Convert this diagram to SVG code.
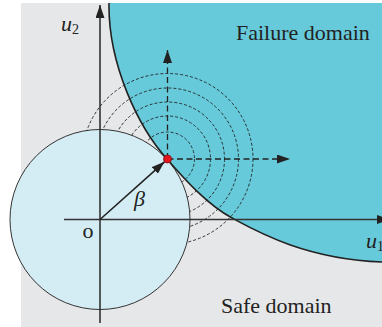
<svg xmlns="http://www.w3.org/2000/svg" width="382" height="327" viewBox="0 0 382 327">
<style>
.axis{stroke:#333;stroke-width:1.6;fill:none}
.bound{stroke:#222;stroke-width:1.6;fill:none}
.ring{stroke:#222;stroke-width:0.9;fill:none;stroke-dasharray:3 2}
.dash{stroke:#222;stroke-width:1.3;fill:none;stroke-dasharray:6 3.5}
.lbl{font-family:"Liberation Serif","Times New Roman",serif;fill:#222}
.it{font-style:italic}
</style>
<defs>
<clipPath id="outside">
<path clip-rule="evenodd" d="M0,0H382V327H0Z M10,219.5a90,90 0 1,0 180,0a90,90 0 1,0 -180,0Z"/>
</clipPath>
<marker id="ah" viewBox="0 0 13 9" refX="13" refY="4.5" markerWidth="13" markerHeight="9" markerUnits="userSpaceOnUse" orient="auto">
<path d="M0,0L13,4.5L0,9Z" fill="#222"/>
</marker>
</defs>
<g id="background">
<rect x="21" y="3" width="361" height="324" fill="#e6e7e9"/>
</g>
<g id="failure-domain">
<path d="M109,3C108,65 139,128 167,159C186,181 208,205 232,218C256,231 305,259 382,262L382,3Z" fill="#67cadb" stroke="none"/>
</g>
<g id="safe-circle">
<circle cx="100" cy="219.5" r="90" fill="#d4edf4" stroke="#333" stroke-width="1"/>
</g>
<g id="rings" clip-path="url(#outside)">
<circle class="ring" cx="167.5" cy="159" r="27"/>
<circle class="ring" cx="167.5" cy="159" r="43"/>
<circle class="ring" cx="167.5" cy="159" r="57"/>
<circle class="ring" cx="167.5" cy="159" r="71"/>
<circle class="ring" cx="167.5" cy="159" r="85.5"/>
</g>
<g id="connectors">
<path class="bound" d="M109,3C108,65 139,128 167,159C186,181 208,205 232,218C256,231 305,259 382,262"/>
<line class="axis" x1="100" y1="323" x2="100" y2="5" marker-end="url(#ah)"/>
<line class="axis" x1="64" y1="219.5" x2="390" y2="219.5" marker-end="url(#ah)"/>
<line class="dash" x1="167.5" y1="159" x2="167.5" y2="50" marker-end="url(#ah)"/>
<line class="dash" x1="167.5" y1="159" x2="290" y2="159" marker-end="url(#ah)"/>
<line stroke="#222" stroke-width="1.6" x1="100" y1="219.5" x2="164.5" y2="161.8" marker-end="url(#ah)"/>
</g>
<g id="design-point">
<circle cx="167.5" cy="159" r="4" fill="#e3161e" stroke="#7a1010" stroke-width="0.8"/>
</g>
<g id="labels">
<text class="lbl" x="236" y="40" font-size="22">Failure domain</text>
<text class="lbl" x="221" y="313" font-size="22">Safe domain</text>
<text class="lbl it" x="61" y="31" font-size="22">u<tspan font-size="14" dy="3" font-style="normal">2</tspan></text>
<text class="lbl it" x="366" y="248" font-size="22">u<tspan font-size="14" dy="3" font-style="normal">1</tspan></text>
<text class="lbl it" x="134" y="206" font-size="22">β</text>
<text class="lbl" x="82.5" y="238" font-size="22">o</text>
</g>
</svg>
